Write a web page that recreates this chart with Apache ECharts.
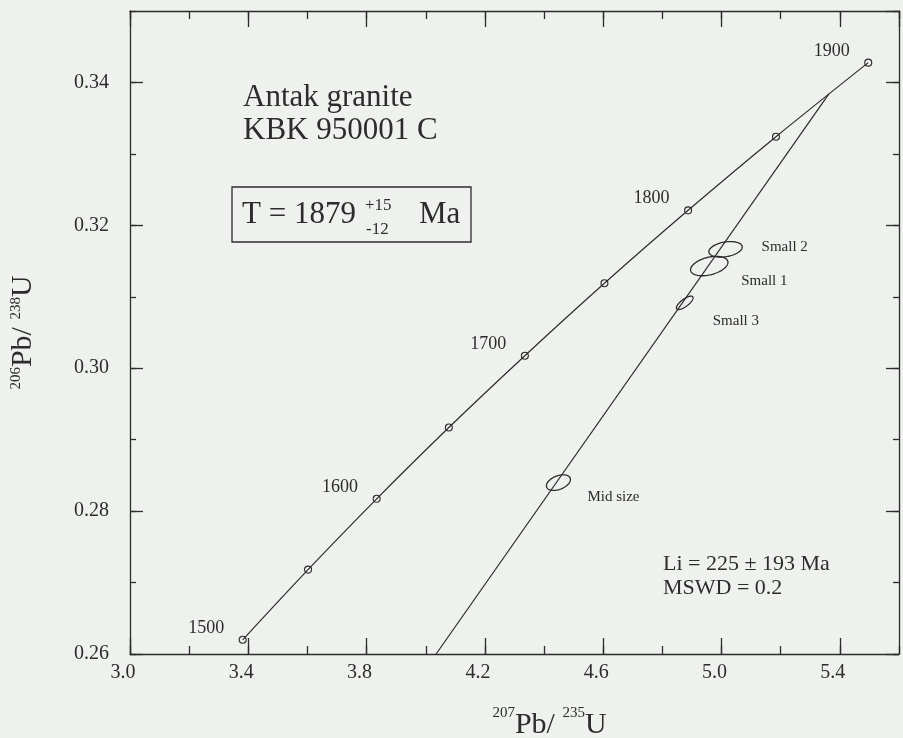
<!DOCTYPE html>
<html><head><meta charset="utf-8">
<script src="https://cdn.jsdelivr.net/npm/echarts@6/dist/echarts.min.js"></script>
<style>html,body{margin:0;padding:0;background:#eef1ed;} #c{width:903px;height:738px;}</style>
</head><body><div id="c"></div>
<script>
// ---- data ----
const concordiaAges = [1500, 1550, 1600, 1650, 1700, 1750, 1800, 1850, 1900];
const concordiaX = [3.381, 3.602, 3.834, 4.078, 4.335, 4.604, 4.887, 5.184, 5.496];
const concordiaY = [0.26199, 0.27181, 0.28172, 0.29170, 0.30175, 0.31189, 0.32210, 0.33240, 0.34277];
const discordiaX = [4.035, 5.363];
const discordiaY = [0.26, 0.3384];
const ellipseNames = ['Small 2', 'Small 1', 'Small 3', 'Mid size'];
const ellipseCX = [5.0136, 4.9585, 4.8756, 4.4485];
const ellipseCY = [0.31664, 0.31430, 0.30915, 0.28399];
const ellipseSX = [0.0565, 0.0632, 0.0281, 0.0406];
const ellipseSY = [0.00109, 0.00136, 0.00094, 0.00109];
const ellipseRho = [0.3, 0.38, 0.75, 0.4];
const xTickLabels = ['3.0', '3.4', '3.8', '4.2', '4.6', '5.0', '5.4'];
const yTickLabels = ['0.26', '0.28', '0.30', '0.32', '0.34'];
const titleLines = ['Antak granite', 'KBK 950001 C'];
const ageText = ['T = 1879', '+15', '-12', 'Ma'];
const statLines = ['Li = 225 \u00B1 193 Ma', 'MSWD = 0.2'];

// ---- chart ----
const INK = '#2c2c2c';
const SERIF = '"Liberation Serif", "Times New Roman", serif';
const axLine = { color: INK, width: 1.3 };
const gridBox = { left: 130, right: 4, top: 11, bottom: 84, outerBoundsMode: 'none', containLabel: false };

function nameRich(lh) {
  return {
    sup: { fontFamily: SERIF, fontSize: 15, color: INK, verticalAlign: 'top' },
    main: { fontFamily: SERIF, fontSize: 30, color: INK, lineHeight: lh, verticalAlign: 'bottom' }
  };
}

function xAx(grid, pos, interval, tickLen, lineShow, labels) {
  const a = {
    gridIndex: grid, type: 'value', position: pos, min: 3.0, max: 5.6, interval: interval,
    axisLine: { show: lineShow, onZero: false, lineStyle: axLine },
    axisTick: { show: true, inside: true, length: tickLen, lineStyle: axLine },
    axisLabel: { show: false }, splitLine: { show: false }
  };
  if (labels) {
    a.axisLabel = {
      show: true, showMaxLabel: false, margin: 9, padding: [0, 14, 0, 0],
      fontFamily: SERIF, fontSize: 20, color: INK,
      formatter: v => { const s = v.toFixed(1); return xTickLabels.indexOf(s) >= 0 ? s : ''; }
    };
    a.name = '{sup|207}{main|Pb/ }{sup|235}{main|U}';
    a.nameLocation = 'middle';
    a.nameGap = 52;
    a.nameTextStyle = { padding: [0, 0, 0, 70], rich: nameRich(34) };
  }
  return a;
}
function yAx(grid, pos, interval, tickLen, lineShow, labels) {
  const a = {
    gridIndex: grid, type: 'value', position: pos, min: 0.26, max: 0.35, interval: interval,
    axisLine: { show: lineShow, onZero: false, lineStyle: axLine },
    axisTick: { show: true, inside: true, length: tickLen, lineStyle: axLine },
    axisLabel: { show: false }, splitLine: { show: false }
  };
  if (labels) {
    a.axisLabel = {
      show: true, showMaxLabel: false, margin: 21,
      fontFamily: SERIF, fontSize: 20, color: INK,
      formatter: v => { const s = v.toFixed(2); return yTickLabels.indexOf(s) >= 0 ? s : ''; }
    };
    a.name = '{sup|206}{main|Pb/ }{sup|238}{main|U}';
    a.nameLocation = 'middle';
    a.nameGap = 92;
    a.nameTextStyle = { rich: nameRich(29) };
  }
  return a;
}

const ellipseLabelOffset = [[36, -2], [32, 15], [28, 18], [29, 14.5]];

function txt(x, y, text, size) {
  return { type: 'text', x: x, y: y, z: 100,
    style: { text: text, fill: INK, font: size + 'px ' + SERIF, textAlign: 'left', align: 'left',
             textVerticalAlign: 'middle', verticalAlign: 'middle' } };
}

const option = {
  backgroundColor: '#eef1ed',
  animation: false,
  grid: [Object.assign({}, gridBox), Object.assign({}, gridBox)],
  xAxis: [xAx(0, 'bottom', 0.4, 16, true, true), xAx(0, 'top', 0.4, 16, true, false),
          xAx(1, 'bottom', 0.2, 8, false, false), xAx(1, 'top', 0.2, 8, false, false)],
  yAxis: [yAx(0, 'left', 0.02, 13, true, true), yAx(0, 'right', 0.02, 13, true, false),
          yAx(1, 'left', 0.01, 6, false, false), yAx(1, 'right', 0.01, 6, false, false)],
  series: [
    {
      type: 'line', xAxisIndex: 0, yAxisIndex: 0, smooth: 0.3,
      data: concordiaAges.map((a, i) => [concordiaX[i], concordiaY[i]]),
      symbol: 'circle', symbolSize: 7,
      itemStyle: { color: 'rgba(0,0,0,0)', borderColor: INK, borderWidth: 1.1 },
      lineStyle: { color: INK, width: 1.2 },
      label: {
        show: true, position: 'left', distance: 14.5, offset: [0, -11.6],
        fontFamily: SERIF, fontSize: 18, color: INK,
        formatter: p => (concordiaAges[p.dataIndex] % 100 === 0 ? String(concordiaAges[p.dataIndex]) : '')
      },
      z: 3
    },
    {
      type: 'line', xAxisIndex: 0, yAxisIndex: 0, symbol: 'none',
      data: discordiaX.map((x, i) => [x, discordiaY[i]]),
      lineStyle: { color: INK, width: 1.2 }, z: 2
    },
    {
      type: 'custom', xAxisIndex: 0, yAxisIndex: 0, z: 4,
      data: ellipseNames.map((n, i) => [ellipseCX[i], ellipseCY[i], ellipseSX[i], ellipseSY[i], ellipseRho[i]]),
      encode: { x: 0, y: 1 },
      renderItem: function (params, api) {
        const cx = api.value(0), cy = api.value(1), sx = api.value(2), sy = api.value(3), rho = api.value(4);
        const k = Math.sqrt(1 - rho * rho);
        const pts = [];
        for (let j = 0; j < 90; j++) {
          const t = j / 90 * 2 * Math.PI;
          pts.push(api.coord([cx + sx * Math.cos(t), cy + sy * (rho * Math.cos(t) + k * Math.sin(t))]));
        }
        const c = api.coord([cx, cy]);
        const off = ellipseLabelOffset[params.dataIndex];
        return {
          type: 'group',
          children: [
            { type: 'polygon', shape: { points: pts }, style: { fill: 'none', stroke: INK, lineWidth: 1.3 } },
            { type: 'text', x: c[0] + off[0], y: c[1] + off[1],
              style: { text: ellipseNames[params.dataIndex], fill: INK, font: '15px ' + SERIF,
                       textAlign: 'left', align: 'left', textVerticalAlign: 'middle', verticalAlign: 'middle' } }
          ]
        };
      }
    }
  ],
  graphic: [
    txt(243, 97.8, titleLines[0], 31),
    txt(243, 131.2, titleLines[1], 31),
    { type: 'rect', z: 100, shape: { x: 232, y: 187, width: 239, height: 55 },
      style: { fill: 'none', stroke: INK, lineWidth: 1.3 } },
    txt(242, 215.2, ageText[0], 31),
    txt(365, 206, ageText[1], 17),
    txt(366, 229.3, ageText[2], 17),
    txt(419, 215.2, ageText[3], 31),
    txt(663, 564.3, statLines[0], 22),
    txt(663, 588.6, statLines[1], 22)
  ]
};

const chart = echarts.init(document.getElementById('c'), null, { renderer: 'canvas' });
chart.setOption(option);
</script>
</body></html>
